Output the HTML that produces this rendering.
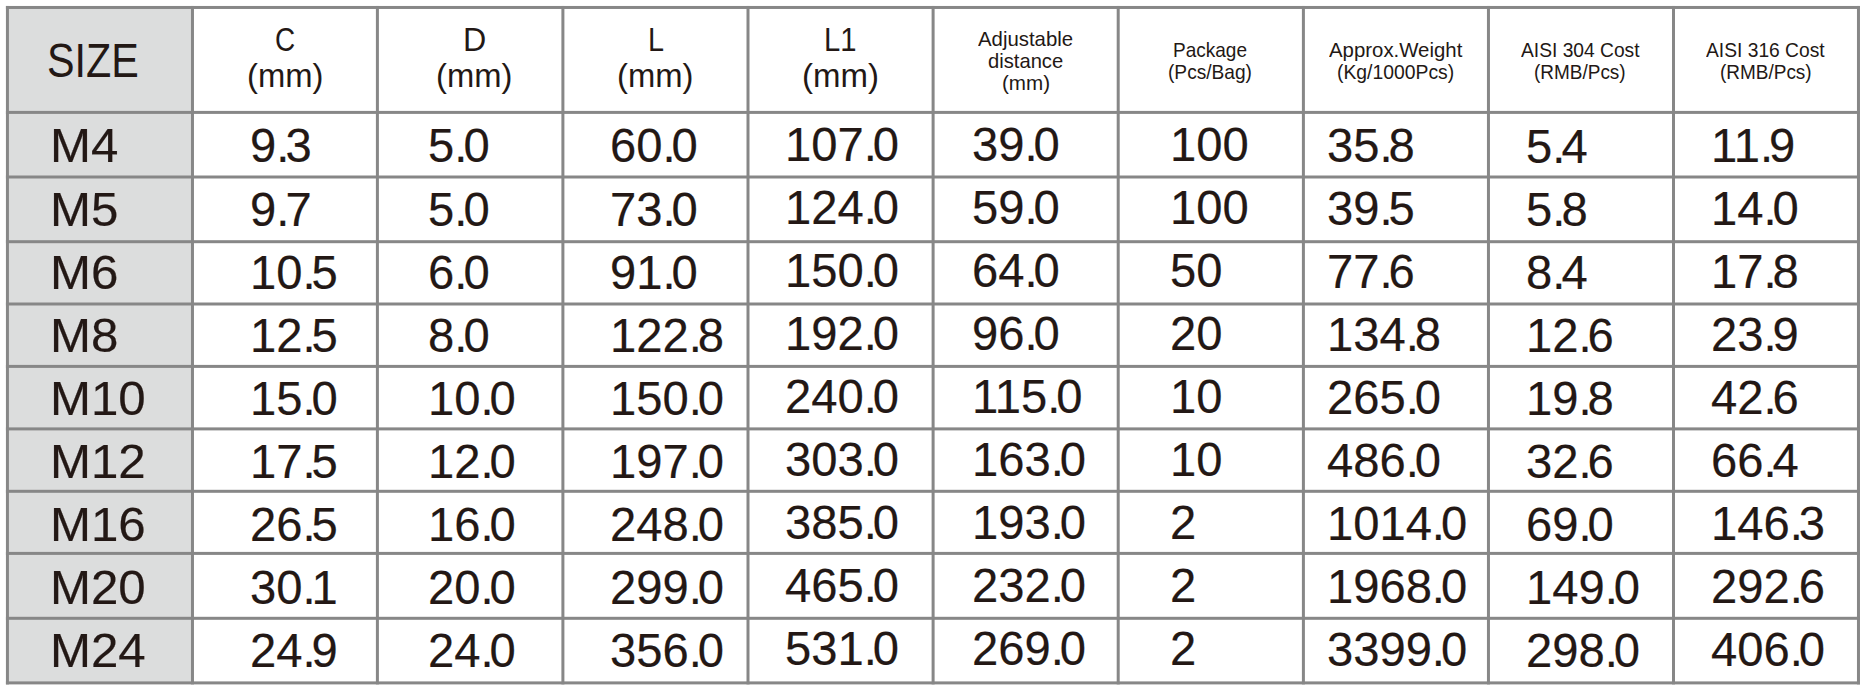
<!DOCTYPE html>
<html><head><meta charset="utf-8"><title>Size table</title>
<style>
html,body{margin:0;padding:0;background:#fff;}
body{width:1864px;height:691px;position:relative;overflow:hidden;}
.t{position:absolute;white-space:nowrap;line-height:0;font-family:"Liberation Sans",sans-serif;color:#231815;transform-origin:0 0;}
.t i{font-style:normal;}
.b{-webkit-text-stroke:0.2px #231815;}
</style></head><body>
<svg width="1864" height="691" viewBox="0 0 1864 691" style="position:absolute;left:0;top:0">
<rect x="7.43" y="7.47" width="185.04" height="675.43" fill="#dcdddd"/>
<rect x="5.93" y="5.97" width="3.00" height="678.43" fill="#878787"/>
<rect x="190.97" y="5.97" width="3.00" height="678.43" fill="#878787"/>
<rect x="375.90" y="5.97" width="3.00" height="678.43" fill="#878787"/>
<rect x="561.40" y="5.97" width="3.00" height="678.43" fill="#878787"/>
<rect x="746.50" y="5.97" width="3.00" height="678.43" fill="#878787"/>
<rect x="931.60" y="5.97" width="3.00" height="678.43" fill="#878787"/>
<rect x="1116.70" y="5.97" width="3.00" height="678.43" fill="#878787"/>
<rect x="1301.90" y="5.97" width="3.00" height="678.43" fill="#878787"/>
<rect x="1486.95" y="5.97" width="3.00" height="678.43" fill="#878787"/>
<rect x="1672.00" y="5.97" width="3.00" height="678.43" fill="#878787"/>
<rect x="1856.97" y="5.97" width="3.00" height="678.43" fill="#878787"/>
<rect x="5.93" y="5.97" width="1854.04" height="3.00" fill="#878787"/>
<rect x="5.93" y="110.90" width="1854.04" height="3.00" fill="#878787"/>
<rect x="5.93" y="175.50" width="1854.04" height="3.00" fill="#878787"/>
<rect x="5.93" y="240.20" width="1854.04" height="3.00" fill="#878787"/>
<rect x="5.93" y="302.50" width="1854.04" height="3.00" fill="#878787"/>
<rect x="5.93" y="364.90" width="1854.04" height="3.00" fill="#878787"/>
<rect x="5.93" y="427.40" width="1854.04" height="3.00" fill="#878787"/>
<rect x="5.93" y="489.80" width="1854.04" height="3.00" fill="#878787"/>
<rect x="5.93" y="551.90" width="1854.04" height="3.00" fill="#878787"/>
<rect x="5.93" y="616.80" width="1854.04" height="3.00" fill="#878787"/>
<rect x="5.93" y="681.40" width="1854.04" height="3.00" fill="#878787"/>
</svg>
<div class="t" style="left:46.83px;top:60.09px;font-size:48.50px;transform:scaleX(0.8511)">SIZE</div>
<div class="t" style="left:274.88px;top:39.77px;font-size:32.40px;transform:scaleX(0.8626)">C</div>
<div class="t" style="left:247.07px;top:75.67px;font-size:32.40px;transform:scaleX(1.0120)">(mm)</div>
<div class="t" style="left:462.55px;top:39.77px;font-size:32.40px;transform:scaleX(0.9953)">D</div>
<div class="t" style="left:435.97px;top:75.67px;font-size:32.40px;transform:scaleX(1.0106)">(mm)</div>
<div class="t" style="left:648.04px;top:39.77px;font-size:32.40px;transform:scaleX(0.8890)">L</div>
<div class="t" style="left:617.07px;top:75.67px;font-size:32.40px;transform:scaleX(1.0120)">(mm)</div>
<div class="t" style="left:824.30px;top:39.77px;font-size:32.40px;transform:scaleX(0.9025)">L1</div>
<div class="t" style="left:802.05px;top:75.67px;font-size:32.40px;transform:scaleX(1.0190)">(mm)</div>
<div class="t" style="left:978.06px;top:38.94px;font-size:19.80px;transform:scaleX(1.0290)">Adjustable</div>
<div class="t" style="left:987.85px;top:60.64px;font-size:19.80px;transform:scaleX(1.0203)">distance</div>
<div class="t" style="left:1001.62px;top:82.94px;font-size:19.80px;transform:scaleX(1.0430)">(mm)</div>
<div class="t" style="left:1173.19px;top:49.64px;font-size:19.80px;transform:scaleX(0.9611)">Package</div>
<div class="t" style="left:1168.31px;top:71.74px;font-size:19.80px;transform:scaleX(0.9672)">(Pcs/Bag)</div>
<div class="t" style="left:1328.66px;top:50.04px;font-size:19.80px;transform:scaleX(1.0303)">Approx.Weight</div>
<div class="t" style="left:1336.60px;top:71.94px;font-size:19.80px;transform:scaleX(0.9778)">(Kg/1000Pcs)</div>
<div class="t" style="left:1520.96px;top:50.04px;font-size:19.80px;transform:scaleX(0.9715)">AISI 304 Cost</div>
<div class="t" style="left:1534.42px;top:71.94px;font-size:19.80px;transform:scaleX(0.9588)">(RMB/Pcs)</div>
<div class="t" style="left:1706.36px;top:50.04px;font-size:19.80px;transform:scaleX(0.9723)">AISI 316 Cost</div>
<div class="t" style="left:1719.82px;top:71.94px;font-size:19.80px;transform:scaleX(0.9588)">(RMB/Pcs)</div>
<div class="t b" style="left:49.90px;top:145.76px;font-size:48.00px;transform:scaleX(1.0250)">M4</div>
<div class="t b" style="left:249.70px;top:145.76px;font-size:48.00px;transform:scaleX(0.9820)">9<i style="letter-spacing:-4.00px">.</i>3</div>
<div class="t b" style="left:427.70px;top:145.76px;font-size:48.00px;transform:scaleX(0.9820)">5<i style="letter-spacing:-4.00px">.</i>0</div>
<div class="t b" style="left:610.00px;top:145.76px;font-size:48.00px;transform:scaleX(0.9820)">60<i style="letter-spacing:-4.00px">.</i>0</div>
<div class="t b" style="left:784.80px;top:144.76px;font-size:48.00px;transform:scaleX(0.9820)">107<i style="letter-spacing:-4.00px">.</i>0</div>
<div class="t b" style="left:972.20px;top:144.76px;font-size:48.00px;transform:scaleX(0.9820)">39<i style="letter-spacing:-4.00px">.</i>0</div>
<div class="t b" style="left:1169.90px;top:144.76px;font-size:48.00px;transform:scaleX(0.9820)">100</div>
<div class="t b" style="left:1326.50px;top:145.76px;font-size:48.00px;transform:scaleX(0.9820)">35<i style="letter-spacing:-4.00px">.</i>8</div>
<div class="t b" style="left:1525.60px;top:146.76px;font-size:48.00px;transform:scaleX(0.9820)">5<i style="letter-spacing:-4.00px">.</i>4</div>
<div class="t b" style="left:1710.80px;top:145.76px;font-size:48.00px;transform:scaleX(0.9820)">11<i style="letter-spacing:-4.00px">.</i>9</div>
<div class="t b" style="left:49.90px;top:209.76px;font-size:48.00px;transform:scaleX(1.0250)">M5</div>
<div class="t b" style="left:249.70px;top:209.76px;font-size:48.00px;transform:scaleX(0.9820)">9<i style="letter-spacing:-4.00px">.</i>7</div>
<div class="t b" style="left:427.70px;top:209.76px;font-size:48.00px;transform:scaleX(0.9820)">5<i style="letter-spacing:-4.00px">.</i>0</div>
<div class="t b" style="left:610.00px;top:209.76px;font-size:48.00px;transform:scaleX(0.9820)">73<i style="letter-spacing:-4.00px">.</i>0</div>
<div class="t b" style="left:784.80px;top:207.76px;font-size:48.00px;transform:scaleX(0.9820)">124<i style="letter-spacing:-4.00px">.</i>0</div>
<div class="t b" style="left:972.20px;top:207.76px;font-size:48.00px;transform:scaleX(0.9820)">59<i style="letter-spacing:-4.00px">.</i>0</div>
<div class="t b" style="left:1169.90px;top:207.76px;font-size:48.00px;transform:scaleX(0.9820)">100</div>
<div class="t b" style="left:1326.50px;top:208.76px;font-size:48.00px;transform:scaleX(0.9820)">39<i style="letter-spacing:-4.00px">.</i>5</div>
<div class="t b" style="left:1525.60px;top:209.76px;font-size:48.00px;transform:scaleX(0.9820)">5<i style="letter-spacing:-4.00px">.</i>8</div>
<div class="t b" style="left:1710.80px;top:208.76px;font-size:48.00px;transform:scaleX(0.9820)">14<i style="letter-spacing:-4.00px">.</i>0</div>
<div class="t b" style="left:49.90px;top:272.76px;font-size:48.00px;transform:scaleX(1.0250)">M6</div>
<div class="t b" style="left:249.70px;top:272.76px;font-size:48.00px;transform:scaleX(0.9820)">10<i style="letter-spacing:-4.00px">.</i>5</div>
<div class="t b" style="left:427.70px;top:272.76px;font-size:48.00px;transform:scaleX(0.9820)">6<i style="letter-spacing:-4.00px">.</i>0</div>
<div class="t b" style="left:610.00px;top:272.76px;font-size:48.00px;transform:scaleX(0.9820)">91<i style="letter-spacing:-4.00px">.</i>0</div>
<div class="t b" style="left:784.80px;top:270.76px;font-size:48.00px;transform:scaleX(0.9820)">150<i style="letter-spacing:-4.00px">.</i>0</div>
<div class="t b" style="left:972.20px;top:270.76px;font-size:48.00px;transform:scaleX(0.9820)">64<i style="letter-spacing:-4.00px">.</i>0</div>
<div class="t b" style="left:1169.90px;top:270.76px;font-size:48.00px;transform:scaleX(0.9820)">50</div>
<div class="t b" style="left:1326.50px;top:271.76px;font-size:48.00px;transform:scaleX(0.9820)">77<i style="letter-spacing:-4.00px">.</i>6</div>
<div class="t b" style="left:1525.60px;top:272.76px;font-size:48.00px;transform:scaleX(0.9820)">8<i style="letter-spacing:-4.00px">.</i>4</div>
<div class="t b" style="left:1710.80px;top:271.76px;font-size:48.00px;transform:scaleX(0.9820)">17<i style="letter-spacing:-4.00px">.</i>8</div>
<div class="t b" style="left:49.90px;top:335.76px;font-size:48.00px;transform:scaleX(1.0250)">M8</div>
<div class="t b" style="left:249.70px;top:335.76px;font-size:48.00px;transform:scaleX(0.9820)">12<i style="letter-spacing:-4.00px">.</i>5</div>
<div class="t b" style="left:427.70px;top:335.76px;font-size:48.00px;transform:scaleX(0.9820)">8<i style="letter-spacing:-4.00px">.</i>0</div>
<div class="t b" style="left:610.00px;top:335.76px;font-size:48.00px;transform:scaleX(0.9820)">122<i style="letter-spacing:-4.00px">.</i>8</div>
<div class="t b" style="left:784.80px;top:333.76px;font-size:48.00px;transform:scaleX(0.9820)">192<i style="letter-spacing:-4.00px">.</i>0</div>
<div class="t b" style="left:972.20px;top:333.76px;font-size:48.00px;transform:scaleX(0.9820)">96<i style="letter-spacing:-4.00px">.</i>0</div>
<div class="t b" style="left:1169.90px;top:333.76px;font-size:48.00px;transform:scaleX(0.9820)">20</div>
<div class="t b" style="left:1326.50px;top:334.76px;font-size:48.00px;transform:scaleX(0.9820)">134<i style="letter-spacing:-4.00px">.</i>8</div>
<div class="t b" style="left:1525.60px;top:335.76px;font-size:48.00px;transform:scaleX(0.9820)">12<i style="letter-spacing:-4.00px">.</i>6</div>
<div class="t b" style="left:1710.80px;top:334.76px;font-size:48.00px;transform:scaleX(0.9820)">23<i style="letter-spacing:-4.00px">.</i>9</div>
<div class="t b" style="left:49.90px;top:398.76px;font-size:48.00px;transform:scaleX(1.0250)">M10</div>
<div class="t b" style="left:249.70px;top:398.76px;font-size:48.00px;transform:scaleX(0.9820)">15<i style="letter-spacing:-4.00px">.</i>0</div>
<div class="t b" style="left:427.70px;top:398.76px;font-size:48.00px;transform:scaleX(0.9820)">10<i style="letter-spacing:-4.00px">.</i>0</div>
<div class="t b" style="left:610.00px;top:398.76px;font-size:48.00px;transform:scaleX(0.9820)">150<i style="letter-spacing:-4.00px">.</i>0</div>
<div class="t b" style="left:784.80px;top:396.76px;font-size:48.00px;transform:scaleX(0.9820)">240<i style="letter-spacing:-4.00px">.</i>0</div>
<div class="t b" style="left:972.20px;top:396.76px;font-size:48.00px;transform:scaleX(0.9820)">115<i style="letter-spacing:-4.00px">.</i>0</div>
<div class="t b" style="left:1169.90px;top:396.76px;font-size:48.00px;transform:scaleX(0.9820)">10</div>
<div class="t b" style="left:1326.50px;top:397.76px;font-size:48.00px;transform:scaleX(0.9820)">265<i style="letter-spacing:-4.00px">.</i>0</div>
<div class="t b" style="left:1525.60px;top:398.76px;font-size:48.00px;transform:scaleX(0.9820)">19<i style="letter-spacing:-4.00px">.</i>8</div>
<div class="t b" style="left:1710.80px;top:397.76px;font-size:48.00px;transform:scaleX(0.9820)">42<i style="letter-spacing:-4.00px">.</i>6</div>
<div class="t b" style="left:49.90px;top:461.76px;font-size:48.00px;transform:scaleX(1.0250)">M12</div>
<div class="t b" style="left:249.70px;top:461.76px;font-size:48.00px;transform:scaleX(0.9820)">17<i style="letter-spacing:-4.00px">.</i>5</div>
<div class="t b" style="left:427.70px;top:461.76px;font-size:48.00px;transform:scaleX(0.9820)">12<i style="letter-spacing:-4.00px">.</i>0</div>
<div class="t b" style="left:610.00px;top:461.76px;font-size:48.00px;transform:scaleX(0.9820)">197<i style="letter-spacing:-4.00px">.</i>0</div>
<div class="t b" style="left:784.80px;top:459.76px;font-size:48.00px;transform:scaleX(0.9820)">303<i style="letter-spacing:-4.00px">.</i>0</div>
<div class="t b" style="left:972.20px;top:459.76px;font-size:48.00px;transform:scaleX(0.9820)">163<i style="letter-spacing:-4.00px">.</i>0</div>
<div class="t b" style="left:1169.90px;top:459.76px;font-size:48.00px;transform:scaleX(0.9820)">10</div>
<div class="t b" style="left:1326.50px;top:460.76px;font-size:48.00px;transform:scaleX(0.9820)">486<i style="letter-spacing:-4.00px">.</i>0</div>
<div class="t b" style="left:1525.60px;top:461.76px;font-size:48.00px;transform:scaleX(0.9820)">32<i style="letter-spacing:-4.00px">.</i>6</div>
<div class="t b" style="left:1710.80px;top:460.76px;font-size:48.00px;transform:scaleX(0.9820)">66<i style="letter-spacing:-4.00px">.</i>4</div>
<div class="t b" style="left:49.90px;top:524.76px;font-size:48.00px;transform:scaleX(1.0250)">M16</div>
<div class="t b" style="left:249.70px;top:524.76px;font-size:48.00px;transform:scaleX(0.9820)">26<i style="letter-spacing:-4.00px">.</i>5</div>
<div class="t b" style="left:427.70px;top:524.76px;font-size:48.00px;transform:scaleX(0.9820)">16<i style="letter-spacing:-4.00px">.</i>0</div>
<div class="t b" style="left:610.00px;top:524.76px;font-size:48.00px;transform:scaleX(0.9820)">248<i style="letter-spacing:-4.00px">.</i>0</div>
<div class="t b" style="left:784.80px;top:522.76px;font-size:48.00px;transform:scaleX(0.9820)">385<i style="letter-spacing:-4.00px">.</i>0</div>
<div class="t b" style="left:972.20px;top:522.76px;font-size:48.00px;transform:scaleX(0.9820)">193<i style="letter-spacing:-4.00px">.</i>0</div>
<div class="t b" style="left:1169.90px;top:522.76px;font-size:48.00px;transform:scaleX(0.9820)">2</div>
<div class="t b" style="left:1326.50px;top:523.76px;font-size:48.00px;transform:scaleX(0.9820)">1014<i style="letter-spacing:-4.00px">.</i>0</div>
<div class="t b" style="left:1525.60px;top:524.76px;font-size:48.00px;transform:scaleX(0.9820)">69<i style="letter-spacing:-4.00px">.</i>0</div>
<div class="t b" style="left:1710.80px;top:523.76px;font-size:48.00px;transform:scaleX(0.9820)">146<i style="letter-spacing:-4.00px">.</i>3</div>
<div class="t b" style="left:49.90px;top:587.76px;font-size:48.00px;transform:scaleX(1.0250)">M20</div>
<div class="t b" style="left:249.70px;top:587.76px;font-size:48.00px;transform:scaleX(0.9820)">30<i style="letter-spacing:-4.00px">.</i>1</div>
<div class="t b" style="left:427.70px;top:587.76px;font-size:48.00px;transform:scaleX(0.9820)">20<i style="letter-spacing:-4.00px">.</i>0</div>
<div class="t b" style="left:610.00px;top:587.76px;font-size:48.00px;transform:scaleX(0.9820)">299<i style="letter-spacing:-4.00px">.</i>0</div>
<div class="t b" style="left:784.80px;top:585.76px;font-size:48.00px;transform:scaleX(0.9820)">465<i style="letter-spacing:-4.00px">.</i>0</div>
<div class="t b" style="left:972.20px;top:585.76px;font-size:48.00px;transform:scaleX(0.9820)">232<i style="letter-spacing:-4.00px">.</i>0</div>
<div class="t b" style="left:1169.90px;top:585.76px;font-size:48.00px;transform:scaleX(0.9820)">2</div>
<div class="t b" style="left:1326.50px;top:586.76px;font-size:48.00px;transform:scaleX(0.9820)">1968<i style="letter-spacing:-4.00px">.</i>0</div>
<div class="t b" style="left:1525.60px;top:587.76px;font-size:48.00px;transform:scaleX(0.9820)">149<i style="letter-spacing:-4.00px">.</i>0</div>
<div class="t b" style="left:1710.80px;top:586.76px;font-size:48.00px;transform:scaleX(0.9820)">292<i style="letter-spacing:-4.00px">.</i>6</div>
<div class="t b" style="left:49.90px;top:650.76px;font-size:48.00px;transform:scaleX(1.0250)">M24</div>
<div class="t b" style="left:249.70px;top:650.76px;font-size:48.00px;transform:scaleX(0.9820)">24<i style="letter-spacing:-4.00px">.</i>9</div>
<div class="t b" style="left:427.70px;top:650.76px;font-size:48.00px;transform:scaleX(0.9820)">24<i style="letter-spacing:-4.00px">.</i>0</div>
<div class="t b" style="left:610.00px;top:650.76px;font-size:48.00px;transform:scaleX(0.9820)">356<i style="letter-spacing:-4.00px">.</i>0</div>
<div class="t b" style="left:784.80px;top:648.76px;font-size:48.00px;transform:scaleX(0.9820)">531<i style="letter-spacing:-4.00px">.</i>0</div>
<div class="t b" style="left:972.20px;top:648.76px;font-size:48.00px;transform:scaleX(0.9820)">269<i style="letter-spacing:-4.00px">.</i>0</div>
<div class="t b" style="left:1169.90px;top:648.76px;font-size:48.00px;transform:scaleX(0.9820)">2</div>
<div class="t b" style="left:1326.50px;top:649.76px;font-size:48.00px;transform:scaleX(0.9820)">3399<i style="letter-spacing:-4.00px">.</i>0</div>
<div class="t b" style="left:1525.60px;top:650.76px;font-size:48.00px;transform:scaleX(0.9820)">298<i style="letter-spacing:-4.00px">.</i>0</div>
<div class="t b" style="left:1710.80px;top:649.76px;font-size:48.00px;transform:scaleX(0.9820)">406<i style="letter-spacing:-4.00px">.</i>0</div>
</body></html>
